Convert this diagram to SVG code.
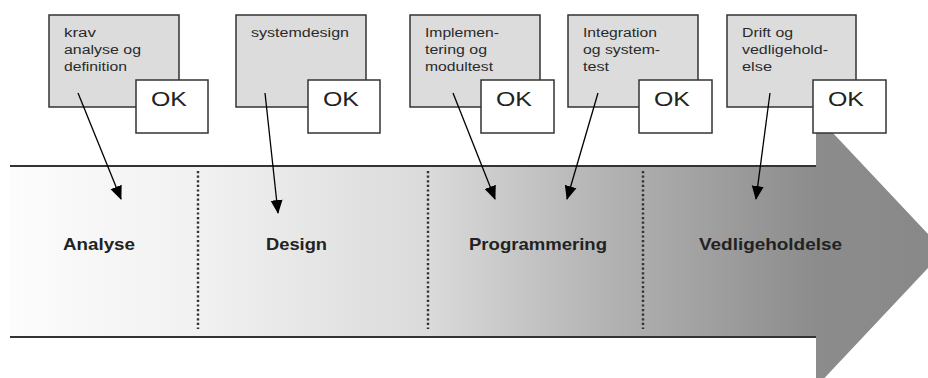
<svg xmlns="http://www.w3.org/2000/svg" width="928" height="378" viewBox="0 0 928 378">
<defs>
<linearGradient id="g" gradientUnits="userSpaceOnUse" x1="10" y1="0" x2="944" y2="0">
<stop offset="0" stop-color="#fdfdfd"/>
<stop offset="0.054" stop-color="#f9f9f9"/>
<stop offset="0.203" stop-color="#f1f1f1"/>
<stop offset="0.45" stop-color="#dadada"/>
<stop offset="0.632" stop-color="#b4b4b4"/>
<stop offset="0.863" stop-color="#8c8c8c"/>
<stop offset="1" stop-color="#888"/>
</linearGradient>
<marker id="ah" markerUnits="userSpaceOnUse" markerWidth="14" markerHeight="14" viewBox="0 0 14 14" refX="13" refY="7" orient="auto">
<path d="M0,1 L14,7 L0,13 Z" fill="#000"/>
</marker>
<style>
.box{fill:#dcdcdc;stroke:#333;stroke-width:1.5}
.ok{fill:#fff;stroke:#333;stroke-width:1.5}
.t{font-family:"Liberation Sans",Arial,sans-serif;font-size:12px;fill:#2a2a2a}
.okt{font-family:"Liberation Sans",Arial,sans-serif;font-size:20px;fill:#222}
.ph{font-family:"Liberation Sans",Arial,sans-serif;font-size:17px;font-weight:bold;fill:#222}
.dot{stroke:#333;stroke-width:2.4;stroke-dasharray:2.2 2.4}
.edge{stroke:#000;stroke-width:1.3;fill:none}
.rule{stroke:#333;stroke-width:2}
</style>
</defs>
<g id="timeline">
<path d="M10,166 H816 V115 L944,251 L816,387 V337 H10 Z" fill="url(#g)"/>
<line class="rule" x1="10" y1="166" x2="816" y2="166"/>
<line class="rule" x1="10" y1="337" x2="816" y2="337"/>
<line class="dot" x1="198" y1="171" x2="198" y2="329"/>
<line class="dot" x1="428" y1="171" x2="428" y2="329"/>
<line class="dot" x1="643" y1="171" x2="643" y2="329"/>
</g>
<g id="phase-analyse"><text class="ph" x="63" y="250" textLength="72" lengthAdjust="spacingAndGlyphs">Analyse</text></g>
<g id="phase-design"><text class="ph" x="266" y="250" textLength="61" lengthAdjust="spacingAndGlyphs">Design</text></g>
<g id="phase-programmering"><text class="ph" x="469" y="250" textLength="138" lengthAdjust="spacingAndGlyphs">Programmering</text></g>
<g id="phase-vedligeholdelse"><text class="ph" x="699" y="250" textLength="143" lengthAdjust="spacingAndGlyphs">Vedligeholdelse</text></g>

<g id="n1">
<rect class="box" x="49" y="15" width="130" height="92"/>
<text class="t" x="64" y="37" textLength="32" lengthAdjust="spacingAndGlyphs">krav</text>
<text class="t" x="64" y="54" textLength="77" lengthAdjust="spacingAndGlyphs">analyse og</text>
<text class="t" x="64" y="71" textLength="63" lengthAdjust="spacingAndGlyphs">definition</text>
<rect class="ok" x="136" y="80" width="72" height="53"/>
<text class="okt" x="151" y="106" textLength="36" lengthAdjust="spacingAndGlyphs">OK</text>
</g>
<g id="n2">
<rect class="box" x="236" y="15" width="130" height="92"/>
<text class="t" x="251" y="37" textLength="98" lengthAdjust="spacingAndGlyphs">systemdesign</text>
<rect class="ok" x="308" y="80" width="72" height="53"/>
<text class="okt" x="323" y="106" textLength="36" lengthAdjust="spacingAndGlyphs">OK</text>
</g>
<g id="n3">
<rect class="box" x="410" y="15" width="130" height="92"/>
<text class="t" x="425" y="37" textLength="74" lengthAdjust="spacingAndGlyphs">Implemen-</text>
<text class="t" x="425" y="54" textLength="62" lengthAdjust="spacingAndGlyphs">tering og</text>
<text class="t" x="425" y="71" textLength="68" lengthAdjust="spacingAndGlyphs">modultest</text>
<rect class="ok" x="481" y="80" width="73" height="53"/>
<text class="okt" x="496" y="106" textLength="36" lengthAdjust="spacingAndGlyphs">OK</text>
</g>
<g id="n4">
<rect class="box" x="568" y="15" width="130" height="92"/>
<text class="t" x="583" y="37" textLength="74" lengthAdjust="spacingAndGlyphs">Integration</text>
<text class="t" x="583" y="54" textLength="77" lengthAdjust="spacingAndGlyphs">og system-</text>
<text class="t" x="583" y="71" textLength="26" lengthAdjust="spacingAndGlyphs">test</text>
<rect class="ok" x="639" y="80" width="73" height="53"/>
<text class="okt" x="654" y="106" textLength="36" lengthAdjust="spacingAndGlyphs">OK</text>
</g>
<g id="n5">
<rect class="box" x="727" y="15" width="129" height="92"/>
<text class="t" x="742" y="37" textLength="51" lengthAdjust="spacingAndGlyphs">Drift og</text>
<text class="t" x="742" y="54" textLength="86" lengthAdjust="spacingAndGlyphs">vedligehold-</text>
<text class="t" x="742" y="71" textLength="30" lengthAdjust="spacingAndGlyphs">else</text>
<rect class="ok" x="813" y="80" width="73" height="53"/>
<text class="okt" x="828" y="106" textLength="36" lengthAdjust="spacingAndGlyphs">OK</text>
</g>

<g id="connectors">
<line class="edge" x1="78" y1="93" x2="121" y2="199" marker-end="url(#ah)"/>
<line class="edge" x1="265" y1="93" x2="278" y2="213" marker-end="url(#ah)"/>
<line class="edge" x1="453" y1="93" x2="495" y2="199" marker-end="url(#ah)"/>
<line class="edge" x1="598" y1="93" x2="567" y2="199" marker-end="url(#ah)"/>
<line class="edge" x1="770" y1="93" x2="756" y2="199" marker-end="url(#ah)"/>
</g>
</svg>
